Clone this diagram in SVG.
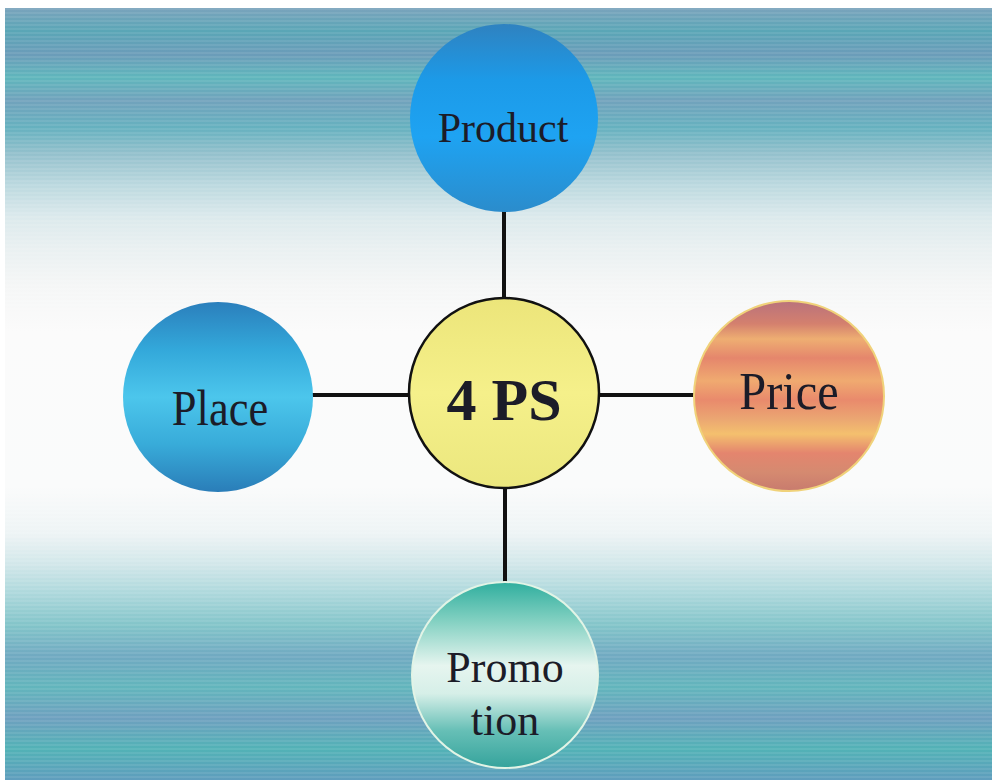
<svg xmlns="http://www.w3.org/2000/svg" width="992" height="783" viewBox="0 0 992 783">
<defs>
<linearGradient id="bg" x1="0" y1="0" x2="0" y2="1">
<stop offset="0" stop-color="#7aa3bc"/>
<stop offset="0.03" stop-color="#5aa6b6"/>
<stop offset="0.06" stop-color="#6b9cb9"/>
<stop offset="0.09" stop-color="#5fb6bc"/>
<stop offset="0.12" stop-color="#71a2bc"/>
<stop offset="0.155" stop-color="#66b1bf"/>
<stop offset="0.19" stop-color="#95c1cd"/>
<stop offset="0.23" stop-color="#bcd9df"/>
<stop offset="0.27" stop-color="#dbe9ec"/>
<stop offset="0.31" stop-color="#e9f0f1"/>
<stop offset="0.36" stop-color="#f5f6f6"/>
<stop offset="0.42" stop-color="#fbfbfb"/>
<stop offset="0.62" stop-color="#fafbfb"/>
<stop offset="0.68" stop-color="#eef4f5"/>
<stop offset="0.72" stop-color="#d2e7ea"/>
<stop offset="0.76" stop-color="#abd7db"/>
<stop offset="0.80" stop-color="#82c4c9"/>
<stop offset="0.84" stop-color="#70a9c1"/>
<stop offset="0.88" stop-color="#62b5bc"/>
<stop offset="0.92" stop-color="#6ea0bf"/>
<stop offset="0.96" stop-color="#52b2b6"/>
<stop offset="1" stop-color="#5f9dbd"/>
</linearGradient>
<pattern id="stripes" width="8" height="4" patternUnits="userSpaceOnUse">
<rect width="8" height="2" fill="#ffffff" opacity="0.08"/>
</pattern>
<linearGradient id="gProduct" x1="0" y1="0" x2="0" y2="1">
<stop offset="0" stop-color="#2f82c0"/>
<stop offset="0.3" stop-color="#1c9ae8"/>
<stop offset="0.6" stop-color="#1ea3f2"/>
<stop offset="1" stop-color="#2b8ccc"/>
</linearGradient>
<linearGradient id="gCenter" x1="0" y1="0" x2="0" y2="1">
<stop offset="0" stop-color="#ece57a"/>
<stop offset="0.5" stop-color="#f5f08a"/>
<stop offset="1" stop-color="#ebe77e"/>
</linearGradient>
<linearGradient id="gPrice" x1="0" y1="0" x2="0" y2="1">
<stop offset="0" stop-color="#b9727c"/>
<stop offset="0.12" stop-color="#d4806e"/>
<stop offset="0.2" stop-color="#eeae72"/>
<stop offset="0.3" stop-color="#e5866c"/>
<stop offset="0.42" stop-color="#f0aa70"/>
<stop offset="0.52" stop-color="#e98a6c"/>
<stop offset="0.62" stop-color="#eba672"/>
<stop offset="0.7" stop-color="#f4c06e"/>
<stop offset="0.8" stop-color="#e4856e"/>
<stop offset="0.9" stop-color="#d58a70"/>
<stop offset="1" stop-color="#c87b6e"/>
</linearGradient>
<linearGradient id="gPlace" x1="0" y1="0" x2="0" y2="1">
<stop offset="0" stop-color="#2b7fbc"/>
<stop offset="0.25" stop-color="#33a8da"/>
<stop offset="0.5" stop-color="#4cc6ec"/>
<stop offset="0.75" stop-color="#38abd9"/>
<stop offset="1" stop-color="#2a7db8"/>
</linearGradient>
<linearGradient id="gPromo" x1="0" y1="0" x2="0" y2="1">
<stop offset="0" stop-color="#2fae9e"/>
<stop offset="0.2" stop-color="#7fcfc0"/>
<stop offset="0.45" stop-color="#e6f5ef"/>
<stop offset="0.6" stop-color="#d6efe8"/>
<stop offset="0.8" stop-color="#66bfb6"/>
<stop offset="1" stop-color="#35a39c"/>
</linearGradient>
<style>
.lbl{font-family:"Liberation Serif","Times New Roman",serif;fill:#1c1c28;text-anchor:middle}
.conn{stroke:#111;stroke-width:4;fill:none}
</style>
</defs>
<rect x="0" y="0" width="992" height="783" fill="#ffffff"/>
<rect x="5" y="8" width="987" height="772" fill="url(#bg)"/>
<rect x="5" y="8" width="987" height="772" fill="url(#stripes)"/>
<g id="connectors">
<line class="conn" x1="504" y1="210" x2="504" y2="300"/>
<line class="conn" x1="312" y1="395" x2="411" y2="395"/>
<line class="conn" x1="598" y1="395" x2="695" y2="395"/>
<line class="conn" x1="505" y1="486" x2="505" y2="585"/>
</g>
<g id="product">
<circle cx="504" cy="118" r="94" fill="url(#gProduct)"/>
<text class="lbl" x="503" y="142" font-size="42">Product</text>
</g>
<g id="center">
<circle cx="504" cy="393" r="95" fill="url(#gCenter)" stroke="#111" stroke-width="2.5"/>
<text class="lbl" x="504" y="420" font-size="60" font-weight="bold" fill="#111">4 PS</text>
</g>
<g id="price">
<circle cx="789" cy="396" r="95" fill="url(#gPrice)" stroke="#f0d27a" stroke-width="2"/>
<text class="lbl" x="0" y="0" font-size="52" transform="translate(789,409) scale(0.93,1)">Price</text>
</g>
<g id="place">
<circle cx="218" cy="397" r="95" fill="url(#gPlace)"/>
<text class="lbl" x="0" y="0" font-size="50" transform="translate(220,425) scale(0.89,1)">Place</text>
</g>
<g id="promotion">
<circle cx="505" cy="675" r="93" fill="url(#gPromo)" stroke="#e2f4e6" stroke-width="2"/>
<text class="lbl" x="505" y="682" font-size="44">Promo</text>
<text class="lbl" x="505" y="735" font-size="44">tion</text>
</g>
</svg>
